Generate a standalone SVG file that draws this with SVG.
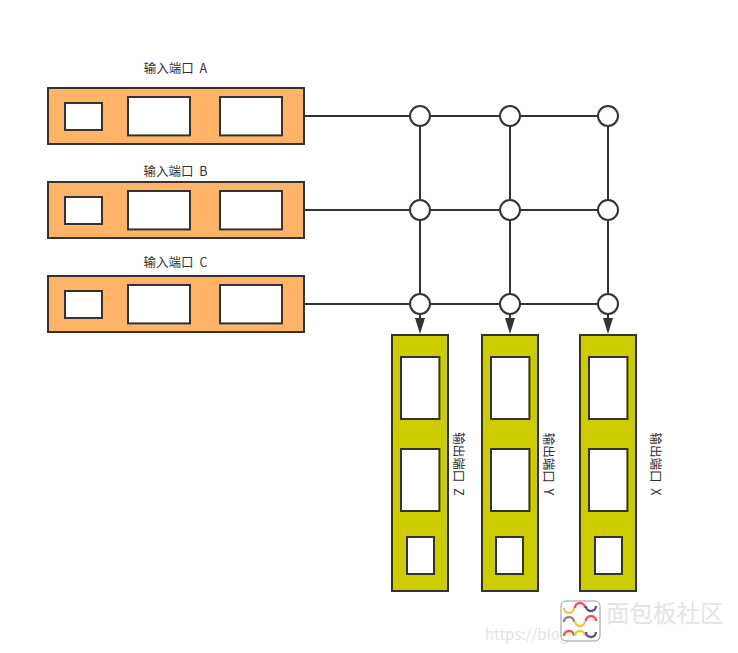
<svg xmlns="http://www.w3.org/2000/svg" width="738" height="653" viewBox="0 0 738 653">
<style>
.b{stroke:#333;stroke-width:2;fill:#fff}
.in{fill:#ffb366}
.out{fill:#cccc00}
.c{fill:none;stroke:#333;stroke-width:2}
text{font-family:"Noto Sans CJK SC","Liberation Sans",sans-serif;font-size:12.5px;fill:#333;text-anchor:middle;word-spacing:3px}
.w{fill:#e4e4e4;word-spacing:0}
.l{fill:none;stroke-width:2.4}
</style>
<g id="connectors">
<path class="c" d="M304 116H608M304 210H608M304 304H608"/>
<path class="c" d="M420 116V325"/>
<path class="c" d="M510 116V325"/>
<path class="c" d="M608 116V325"/>
<path d="M415 318H425L420 334ZM505 318H515L510 334ZM603 318H613L608 334Z" fill="#333"/>
</g>
<g id="input-a"><rect class="b in" x="48" y="88" width="256" height="56"/><rect class="b" x="65" y="103" width="37" height="27"/><rect class="b" x="128" y="97" width="62" height="38.4"/><rect class="b" x="220" y="97" width="62" height="38.4"/><text x="175.500" y="73">输入端口 A</text></g>
<g id="input-b"><rect class="b in" x="48" y="182" width="256" height="56"/><rect class="b" x="65" y="197" width="37" height="27"/><rect class="b" x="128" y="191" width="62" height="38.4"/><rect class="b" x="220" y="191" width="62" height="38.4"/><text x="175.500" y="176">输入端口 B</text></g>
<g id="input-c"><rect class="b in" x="48" y="276" width="256" height="56"/><rect class="b" x="65" y="291" width="37" height="27"/><rect class="b" x="128" y="285" width="62" height="38.4"/><rect class="b" x="220" y="285" width="62" height="38.4"/><text x="175.500" y="267">输入端口 C</text></g>
<g id="nodes-grid">
<circle class="b" cx="420" cy="116" r="10"/><circle class="b" cx="510" cy="116" r="10"/><circle class="b" cx="608" cy="116" r="10"/>
<circle class="b" cx="420" cy="210" r="10"/><circle class="b" cx="510" cy="210" r="10"/><circle class="b" cx="608" cy="210" r="10"/>
<circle class="b" cx="420" cy="304" r="10"/><circle class="b" cx="510" cy="304" r="10"/><circle class="b" cx="608" cy="304" r="10"/>
</g>
<g id="output-z"><rect class="b out" x="392" y="335" width="56" height="256"/><rect class="b" x="401" y="357" width="38.4" height="62"/><rect class="b" x="401" y="449" width="38.4" height="62"/><rect class="b" x="407" y="537" width="27" height="37"/><text transform="translate(458 464) rotate(90)" y="4">输出端口 Z</text></g>
<g id="output-y"><rect class="b out" x="482" y="335" width="56" height="256"/><rect class="b" x="491" y="357" width="38.4" height="62"/><rect class="b" x="491" y="449" width="38.4" height="62"/><rect class="b" x="496" y="537" width="27" height="37"/><text transform="translate(548 464) rotate(90)" y="4">输出端口 Y</text></g>
<g id="output-x"><rect class="b out" x="580" y="335" width="56" height="256"/><rect class="b" x="589" y="357" width="38.4" height="62"/><rect class="b" x="589" y="449" width="38.4" height="62"/><rect class="b" x="595" y="537" width="27" height="37"/><text transform="translate(655 464) rotate(90)" y="4">输出端口 X</text></g>
<g id="watermark">
<text class="w" x="606" y="622" style="font-size:23.500px;text-anchor:start">面包板社区</text>
<text class="w" x="485" y="640" style="font-size:15px;text-anchor:start">https://blog</text>
<rect x="561" y="601" width="39" height="40" rx="5" fill="#fff" stroke="#999" stroke-width="1"/>
<g class="l">
<path d="M564 608a5 5 0 0 0 10 0" stroke="#f5c542"/><path d="M575 608a5 5 0 0 1 10 0" stroke="#ef5350"/><path d="M586 606a5 5 0 0 0 10 0" stroke="#55558f"/>
<path d="M564 622a5 5 0 0 1 10 0" stroke="#8a8a92"/><path d="M575 621a5 5 0 0 0 10 0" stroke="#f5c542"/><path d="M586 621a5 5 0 0 1 10 0" stroke="#ef5350"/>
<path d="M564 636a5 5 0 0 1 10 0" stroke="#ef5350"/><path d="M575 636a5 5 0 0 1 10 0" stroke="#f5c542"/><path d="M586 632a5 5 0 0 0 10 0" stroke="#55558f"/>
</g>
</g>
</svg>
